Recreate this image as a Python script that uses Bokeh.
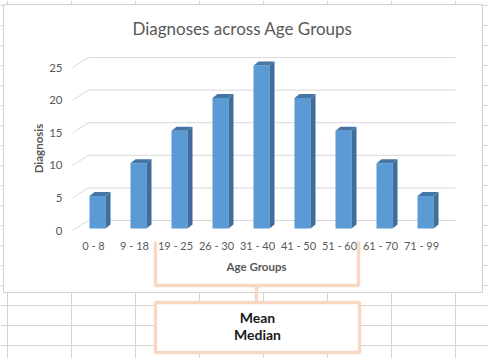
from bokeh.plotting import figure
from bokeh.models import Range1d
from bokeh.core.properties import value
from bokeh.embed import file_html
from bokeh.resources import INLINE

# ---- data ----
age_groups = ["0 - 8", "9 - 18", "19 - 25", "26 - 30", "31 - 40",
              "41 - 50", "51 - 60", "61 - 70", "71 - 99"]
diagnoses = [5, 10, 15, 20, 25, 20, 15, 10, 5]
y_ticks = [0, 5, 10, 15, 20, 25]
chart_title = "Diagnoses across Age Groups"
x_title = "Age Groups"
y_title = "Diagnosis"
note_lines = ["Mean", "Median"]

# ---- geometry / style ----
W, H = 488, 358
PX_X = 41.0      # pixels per category
PX_Y = 6.52      # pixels per diagnosis unit
X0 = 93.0        # image x of category 0
Y0 = 228.0       # image y of value 0
x_start = -X0 / PX_X
x_end = x_start + W / PX_X
y_start = -(H - Y0) / PX_Y
y_end = y_start + H / PX_Y


def dx(sx):
    return (sx - X0) / PX_X


def dy(sy):
    return (Y0 - sy) / PX_Y


FONT = "Lato"
GREY = "#595959"
FRONT = "#5B9BD5"
SIDE = "#3F6E9C"
TOP = "#4576A6"
PEACH = "#F8D8C2"
GRID = "#D9D9D9"
SHEET = "#D4D4D4"

p = figure(width=W, height=H, x_range=Range1d(x_start, x_end),
           y_range=Range1d(y_start, y_end), output_backend="svg",
           toolbar_location=None, x_axis_type=None, y_axis_type=None,
           min_border=0, outline_line_color=None,
           background_fill_color="white", border_fill_color="white")
p.grid.visible = False

# spreadsheet grid
vx = [7 + 64 * k for k in range(8)]
p.segment(x0=[dx(v) for v in vx], x1=[dx(v) for v in vx],
          y0=dy(0), y1=dy(360), line_color=SHEET, line_width=1)
hy = [5 + 20 * k for k in range(18)]
p.segment(x0=dx(0), x1=dx(490), y0=[dy(v) for v in hy], y1=[dy(v) for v in hy],
          line_color=SHEET, line_width=1)

# chart area
p.quad(left=dx(3), right=dx(482), top=dy(4), bottom=dy(292),
       fill_color="white", line_color="#D0D0D0", line_width=1)

# 3D gridlines
FRONT_DY = -2 / PX_Y
BACK_DY = 8 / PX_Y
gx = [dx(72), dx(88), dx(455)]
p.multi_line(xs=[gx for _ in y_ticks],
             ys=[[t + FRONT_DY, t + BACK_DY, t + BACK_DY] for t in y_ticks],
             line_color=GRID, line_width=1)

# bars
BL = -4 / PX_X
BR = 12 / PX_X
DX = 5 / PX_X
DY = 4 / PX_Y
idx = list(range(len(diagnoses)))
p.quad(left=[i + BL for i in idx], right=[i + BR for i in idx],
       bottom=0, top=diagnoses, fill_color=FRONT, line_color=None)
p.patches(xs=[[i + BR, i + BR + DX, i + BR + DX, i + BR] for i in idx],
          ys=[[0, DY, v + DY, v] for v in diagnoses],
          fill_color=SIDE, line_color=None)
p.patches(xs=[[i + BL, i + BR, i + BR + DX, i + BL + DX] for i in idx],
          ys=[[v, v, v + DY, v + DY] for v in diagnoses],
          fill_color=TOP, line_color=None)

# tick labels
p.text(x=dx(62), y=[t + FRONT_DY for t in y_ticks], text=[str(t) for t in y_ticks],
       text_align="right", text_baseline="middle", text_font=value(FONT),
       text_font_size="11.5px", text_color=GREY)
p.text(x=idx, y=dy(245), text=age_groups, text_align="center",
       text_baseline="middle", text_font=value(FONT), text_font_size="11px",
       text_color=GREY)

# titles
p.text(x=dx(242), y=dy(28), text=[chart_title], text_align="center",
       text_baseline="middle", text_font=value(FONT), text_font_size="17px",
       text_color=GREY)
p.text(x=dx(256), y=dy(266), text=[x_title], text_align="center",
       text_baseline="middle", text_font=value(FONT), text_font_size="11.5px",
       text_font_style="bold", text_color=GREY)
p.text(x=dx(38), y=dy(148), text=[y_title], text_align="center",
       text_baseline="middle", text_font=value(FONT), text_font_size="11.5px",
       text_font_style="bold", text_color=GREY, angle=1.5708)

# bracket and note box
p.line(x=[dx(155), dx(155), dx(358), dx(358)],
       y=[dy(241), dy(285), dy(285), dy(241)], line_color=PEACH, line_width=3.5)
p.line(x=[dx(256), dx(256)], y=[dy(285), dy(302)], line_color=PEACH, line_width=3.5)
p.quad(left=dx(155), right=dx(359), top=dy(302), bottom=dy(352),
       fill_color="white", line_color=PEACH, line_width=3.5)
p.text(x=dx(257), y=[dy(317), dy(334)], text=note_lines, text_align="center",
       text_baseline="middle", text_font=value(FONT), text_font_size="14px",
       text_font_style="bold", text_color="#1A1A1A")

open("out.html", "w").write(file_html(p, INLINE))
